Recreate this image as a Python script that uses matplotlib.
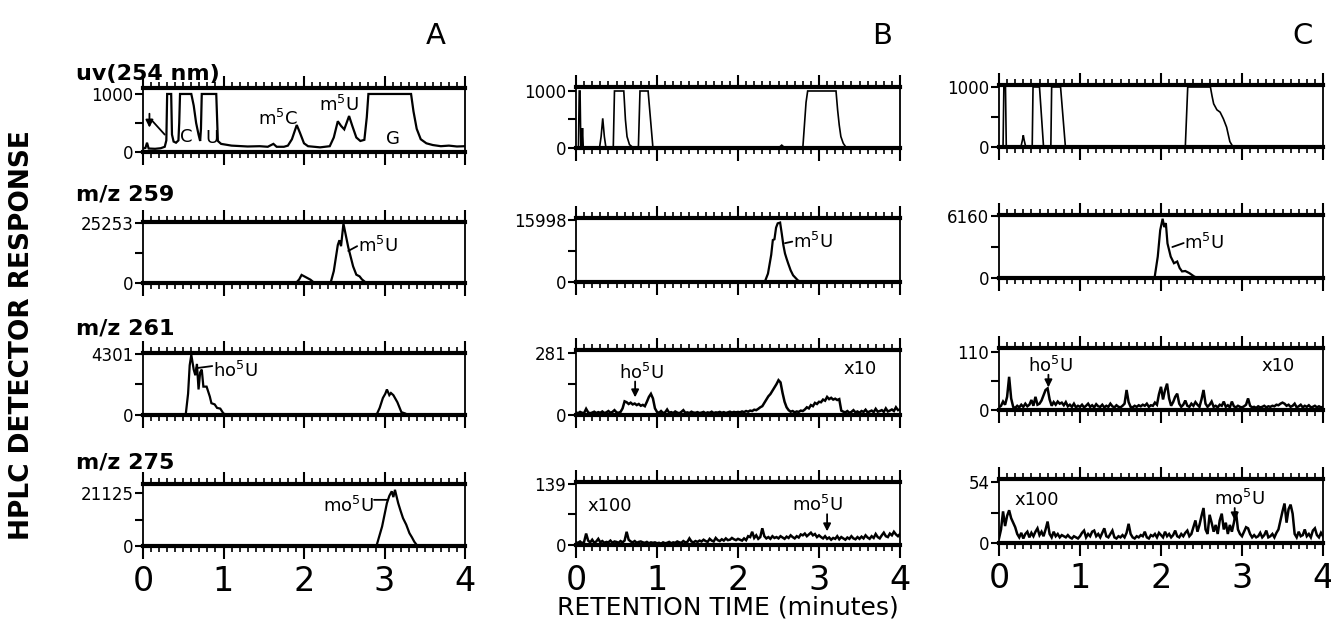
import numpy as np
import matplotlib
matplotlib.use('Agg')
import matplotlib.pyplot as plt
from matplotlib.ticker import MultipleLocator

# ---- data ----
# column A
a_uv_t = [0.00, 0.03, 0.05, 0.07, 0.15, 0.22, 0.27, 0.29, 0.30, 0.35, 0.36, 0.38, 0.41, 0.44, 0.45,
          0.46, 0.60, 0.63, 0.66, 0.69, 0.71, 0.72, 0.73, 0.91, 0.93, 0.97, 1.10, 1.30, 1.45, 1.55,
          1.62, 1.66, 1.75, 1.80, 1.85, 1.91, 1.95, 2.00, 2.05, 2.20, 2.32, 2.37, 2.42, 2.46, 2.50,
          2.56, 2.60, 2.65, 2.70, 2.75, 2.78, 2.80, 3.33, 3.36, 3.40, 3.45, 3.52, 3.60, 3.70, 3.80,
          3.90, 4.00]
a_uv_v = [60, 70, 160, 60, 55, 65, 90, 200, 1000, 1000, 300, 180, 160, 200, 500,
          1000, 1000, 800, 500, 300, 190, 400, 1000, 1000, 190, 140, 110, 95, 100, 90,
          140, 90, 90, 110, 220, 465, 330, 150, 100, 80, 100, 250, 530, 450, 390,
          620, 450, 250, 190, 210, 600, 1000, 1000, 700, 400, 220, 150, 120, 100, 110,
          95, 100]

a_259_t = [0, 1.90, 1.94, 1.97, 2.02, 2.08, 2.13, 2.33, 2.37, 2.42, 2.44, 2.46, 2.49, 2.52,
           2.55, 2.58, 2.61, 2.65, 2.69, 2.72, 2.76, 2.80, 4]
a_259_v = [0, 0, 1500, 3400, 2500, 1400, 0, 0, 5000, 16000, 18000, 15500, 25000, 20000,
           15000, 11000, 7000, 3500, 2800, 1500, 400, 0, 0]

a_261_t = [0, 0.53, 0.56, 0.58, 0.60, 0.63, 0.65, 0.67, 0.69, 0.71, 0.73, 0.75, 0.79, 0.83,
           0.85, 0.89, 0.92, 0.96, 1.00, 1.06, 2.90, 2.94, 2.98, 3.01, 3.03, 3.06, 3.08, 3.11,
           3.16, 3.21, 3.26, 3.29, 4]
a_261_v = [0, 0, 1500, 3500, 4250, 3200, 2800, 3600, 1800, 3000, 3200, 2000, 2000, 1300,
           830, 750, 500, 450, 100, 0, 0, 500, 1200, 1500, 1800, 1400, 1550, 1400,
           900, 200, 100, 0, 0]

a_275_t = [0, 2.90, 2.97, 3.03, 3.06, 3.09, 3.11, 3.13, 3.17, 3.20, 3.23, 3.27, 3.31, 3.34,
           3.37, 3.41, 4]
a_275_v = [0, 0, 7750, 17100, 20000, 21800, 19500, 22400, 17100, 14000, 11100, 8500, 5100, 3500,
           1700, 0, 0]

# column B
b_uv_t = [0, 0.03, 0.04, 0.05, 0.06, 0.07, 0.08, 0.09, 0.29, 0.31, 0.33, 0.35, 0.37, 0.46,
          0.475, 0.59, 0.61, 0.63, 0.66, 0.71, 0.77, 0.79, 0.89, 0.92, 0.95, 2.50, 2.54, 2.58,
          2.80, 2.84, 2.86, 3.21, 3.23, 3.25, 3.27, 3.30, 3.34, 4]
b_uv_v = [0, 0, 1000, 1000, 0, 0, 350, 0, 0, 200, 520, 200, 0, 0,
          1000, 1000, 500, 200, 60, 0, 0, 1000, 1000, 500, 0, 0, 50, 0,
          0, 800, 1000, 1000, 665, 400, 200, 80, 0, 0]

b_259_t = [0, 2.33, 2.37, 2.41, 2.43, 2.45, 2.47, 2.49, 2.52, 2.54, 2.56, 2.58, 2.60, 2.62,
           2.65, 2.68, 2.74, 2.78, 4]
b_259_v = [0, 0, 2160, 7000, 10800, 11000, 14000, 15100, 15300, 12500, 9500, 7350, 6000, 4750,
           3000, 1730, 400, 0, 0]

# noisy traces sampled every 0.025 min (0 .. 4)
b_261_v = [12, 8, 14, 10, 9, 28, 12, 8, 11, 15, 9, 13, 10, 16, 9, 12, 18, 10, 14, 22,
           12, 10, 14, 30, 62, 58, 50, 56, 48, 52, 45, 50, 42, 46, 40, 60, 82, 96, 75, 30,
           14, 10, 18, 9, 12, 25, 10, 13, 9, 16, 11, 8, 14, 22, 10, 12, 9, 15, 11, 10,
           13, 9, 11, 14, 8, 12, 10, 15, 9, 12, 11, 14, 10, 13, 9, 12, 15, 11, 14, 12,
           14, 12, 16, 13, 18, 15, 20, 18, 24, 22, 28, 35, 40, 55, 70, 85, 95, 110, 125, 140,
           158, 148, 100, 60, 35, 22, 15, 18, 12, 16, 14, 20, 18, 25, 35, 30, 45, 40, 55, 50,
           60, 58, 70, 65, 82, 72, 78, 70, 74, 68, 72, 20, 15, 12, 18, 10, 14, 22, 12, 16,
           10, 18, 14, 24, 12, 16, 20, 13, 28, 15, 18, 22, 14, 30, 16, 20, 25, 18, 35, 22,
           25]
b_275_v = [6, 5, 8, 4, 7, 26, 10, 6, 12, 5, 8, 14, 6, 9, 5, 7, 6, 10, 5, 8,
           7, 5, 9, 6, 10, 30, 12, 8, 6, 9, 5, 7, 8, 6, 5, 7, 4, 6, 5, 6,
           4, 5, 3, 6, 4, 5, 7, 4, 6, 5, 8, 6, 5, 9, 6, 7, 15, 8, 6, 9,
           7, 10, 8, 12, 9, 7, 14, 10, 8, 16, 11, 9, 13, 10, 15, 11, 12, 16, 13, 11,
           14, 12, 10, 15, 11, 20, 18, 30, 16, 22, 14, 18, 38, 20, 15, 18, 14, 20, 16, 18,
           15, 20, 17, 14, 19, 16, 22, 18, 15, 20, 17, 24, 22, 26, 20, 24, 28, 22, 25, 18,
           22, 18, 15, 20, 14, 17, 12, 16, 14, 20, 13, 18, 15, 12, 17, 14, 20, 15, 13, 18,
           14, 19, 15, 22, 17, 14, 20, 16, 25, 18, 15, 22, 28, 20, 18, 26, 22, 30, 24, 20,
           25]

# column C
c_uv_t = [0, 0.05, 0.06, 0.08, 0.09, 0.27, 0.29, 0.30, 0.31, 0.33, 0.41, 0.42, 0.50, 0.55,
          0.64, 0.65, 0.76, 0.82, 2.30, 2.33, 2.61, 2.63, 2.65, 2.69, 2.73, 2.77, 2.81, 2.85,
          2.89, 4]
c_uv_v = [0, 0, 1000, 1000, 0, 0, 120, 195, 120, 0, 0, 1000, 1000, 0,
          0, 1000, 1000, 0, 0, 1000, 1000, 850, 720, 620, 580, 470, 330, 90,
          0, 0]

c_259_t = [0, 1.92, 1.96, 1.99, 2.02, 2.04, 2.06, 2.08, 2.10, 2.12, 2.16, 2.20, 2.23, 2.26,
           2.30, 2.35, 2.41, 2.45, 4]
c_259_v = [0, 0, 2140, 4780, 5930, 5100, 5500, 3460, 2800, 2140, 1480, 1650, 1000, 660,
           700, 490, 150, 0, 0]

c_261_v = [5, 8, 16, 10, 25, 63, 22, 6, 4, 8, 5, 10, 6, 12, 7, 10, 19, 8, 25, 10,
           12, 18, 28, 38, 41, 20, 8, 15, 10, 16, 12, 14, 9, 15, 7, 10, 6, 12, 5, 8,
           6, 10, 5, 8, 12, 6, 9, 5, 11, 7, 6, 10, 5, 8, 6, 12, 7, 5, 9, 6,
           5, 8, 12, 38, 15, 6, 5, 8, 6, 9, 7, 10, 8, 12, 6, 9, 8, 14, 10, 30,
           44, 20, 38, 50, 22, 8, 15, 25, 31, 12, 6, 10, 18, 8, 6, 12, 8, 15, 10, 6,
           20, 38, 12, 6, 10, 16, 6, 8, 5, 10, 8, 16, 6, 9, 5, 16, 7, 5, 8, 6,
           5, 7, 10, 22, 8, 5, 6, 4, 7, 5, 6, 8, 5, 7, 6, 8, 7, 10, 9, 12,
           14, 12, 8, 10, 6, 8, 12, 5, 7, 10, 5, 8, 6, 9, 5, 6, 8, 5, 7, 5,
           6]
c_275_v = [4, 12, 28, 15, 24, 29, 22, 18, 14, 8, 5, 9, 4, 8, 10, 5, 9, 6, 10, 13,
           7, 10, 6, 12, 19, 8, 5, 10, 6, 8, 5, 7, 6, 5, 7, 5, 4, 6, 5, 4,
           6, 9, 11, 5, 8, 6, 10, 11, 6, 8, 5, 9, 13, 6, 5, 8, 11, 5, 4, 6,
           5, 7, 5, 9, 17, 8, 5, 4, 6, 5, 7, 6, 10, 5, 4, 7, 6, 8, 5, 9,
           7, 5, 10, 6, 8, 5, 7, 11, 6, 5, 8, 6, 9, 11, 6, 8, 14, 20, 10, 16,
           24, 31, 12, 8, 25, 18, 10, 16, 8, 20, 26, 12, 18, 8, 16, 10, 18, 28, 12, 8,
           6, 10, 14, 13, 8, 5, 7, 5, 6, 9, 5, 7, 11, 5, 6, 8, 5, 9, 12, 20,
           28, 35, 18, 30, 34, 26, 8, 5, 10, 6, 7, 12, 6, 8, 5, 11, 13, 7, 5, 9,
           6]

noise_t = np.linspace(0, 4, 161)

scale_a = [1000, 25253, 4301, 21125]
scale_b = [1000, 15998, 281, 139]
scale_c = [1000, 6160, 110, 54]
row_labels = ['uv(254 nm)', 'm/z 259', 'm/z 261', 'm/z 275']
panel_letters = ['A', 'B', 'C']
time_ticks = [0, 1, 2, 3, 4]

# ---- layout (pixels of the 1331x625 picture) ----
W, H = 1331, 625
cols_x = [(143, 465), (576, 900), (999, 1323)]
rows_y = [[(88, 152), (222, 283), (353, 415), (484, 546)],
          [(87, 148), (218, 282), (350, 415), (482, 545)],
          [(85, 147), (215, 278), (348, 410), (479, 543)]]
top_factor = [[1.103, 1.017, 1.016, 1.17],
              [1.07, 1.03, 1.05, 1.03],
              [1.033, 1.024, 1.07, 1.05]]

fig = plt.figure(figsize=(W / 100, H / 100), dpi=100)


def fx(px):
    return px / W


def fy(py):
    return 1 - py / H


def make_ax(c, r, scale):
    x0, x1 = cols_x[c]
    y0, y1 = rows_y[c][r]
    ax = fig.add_axes([fx(x0), fy(y1), (x1 - x0) / W, (y1 - y0) / H])
    ax.set_xlim(0, 4)
    ax.set_ylim(0, scale * top_factor[c][r])
    for s in ['top', 'bottom']:
        ax.spines[s].set_linewidth(3)
    for s in ['left', 'right']:
        ax.spines[s].set_linewidth(1.3)
    ax.set_xticks(time_ticks)
    ax.xaxis.set_minor_locator(MultipleLocator(0.1))
    ax.tick_params(axis='x', which='major', direction='out', top=True, bottom=True,
                   length=9, width=1.5, labelsize=24, pad=5)
    ax.tick_params(axis='x', which='minor', direction='out', top=True, bottom=True,
                   length=4, width=1.2)
    ax.set_yticks([0, scale / 2, scale])
    ax.set_yticklabels(['0', '', str(scale)])
    ax.tick_params(axis='y', direction='out', left=True, right=False, length=6,
                   width=1.5, labelsize=12, pad=1)
    if r < 3:
        ax.set_xticklabels([])
    else:
        ax.set_xticklabels([str(t) for t in time_ticks])
    return ax


def trace(ax, t, v, lw=1.6):
    ax.plot(t, v, color='k', lw=lw, solid_joinstyle='miter')


def arrow(ax, xy, xytext, head=True):
    ax.annotate('', xy=xy, xytext=xytext,
                arrowprops=dict(arrowstyle='-|>' if head else '-', color='k', lw=1.3,
                                mutation_scale=11, shrinkA=0, shrinkB=0))


lab = dict(fontsize=13, color='k')

# column A
ax = make_ax(0, 0, scale_a[0])
trace(ax, a_uv_t, a_uv_v)
ax.text(0.54, 250, 'C', ha='center', va='center', **lab)
ax.text(0.86, 236, 'U', ha='center', va='center', **lab)
ax.text(1.67, 563, r'm$^5$C', ha='center', va='center', **lab)
ax.text(2.43, 810, r'm$^5$U', ha='center', va='center', **lab)
ax.text(3.11, 219, 'G', ha='center', va='center', **lab)
arrow(ax, (0.08, 420), (0.08, 660))
arrow(ax, (0.10, 560), (0.27, 300), head=False)

ax = make_ax(0, 1, scale_a[1])
trace(ax, a_259_t, a_259_v)
arrow(ax, (2.55, 13500), (2.66, 15500), head=False)
ax.text(2.67, 15500, r'm$^5$U', ha='left', va='center', **lab)

ax = make_ax(0, 2, scale_a[2])
trace(ax, a_261_t, a_261_v)
arrow(ax, (0.66, 3300), (0.86, 3450), head=False)
ax.text(0.87, 3100, r'ho$^5$U', ha='left', va='center', **lab)

ax = make_ax(0, 3, scale_a[3])
trace(ax, a_275_t, a_275_v)
arrow(ax, (2.87, 18400), (3.04, 18400), head=False)
ax.text(2.87, 15800, r'mo$^5$U', ha='right', va='center', **lab)

# column B
ax = make_ax(1, 0, scale_b[0])
trace(ax, b_uv_t, b_uv_v, lw=1.2)

ax = make_ax(1, 1, scale_b[1])
trace(ax, b_259_t, b_259_v)
arrow(ax, (2.58, 10000), (2.67, 10400), head=False)
ax.text(2.68, 10377, r'm$^5$U', ha='left', va='center', **lab)

ax = make_ax(1, 2, scale_b[2])
trace(ax, noise_t, b_261_v, lw=1.8)
ax.text(0.81, 190, r'ho$^5$U', ha='center', va='center', **lab)
arrow(ax, (0.73, 80), (0.73, 152))
ax.text(3.51, 210, 'x10', ha='center', va='center', **lab)

ax = make_ax(1, 3, scale_b[3])
trace(ax, noise_t, b_275_v, lw=1.8)
ax.text(0.42, 88, 'x100', ha='center', va='center', **lab)
ax.text(2.98, 92, r'mo$^5$U', ha='center', va='center', **lab)
arrow(ax, (3.10, 31), (3.10, 70))

# column C
ax = make_ax(2, 0, scale_c[0])
trace(ax, c_uv_t, c_uv_v, lw=1.2)

ax = make_ax(2, 1, scale_c[1])
trace(ax, c_259_t, c_259_v)
arrow(ax, (2.14, 3100), (2.28, 3500), head=False)
ax.text(2.29, 3460, r'm$^5$U', ha='left', va='center', **lab)

ax = make_ax(2, 2, scale_c[2])
trace(ax, noise_t, c_261_v, lw=1.8)
ax.text(0.63, 84, r'ho$^5$U', ha='center', va='center', **lab)
arrow(ax, (0.61, 43), (0.61, 67))
ax.text(3.45, 83, 'x10', ha='center', va='center', **lab)

ax = make_ax(2, 3, scale_c[3])
trace(ax, noise_t, c_275_v, lw=1.8)
ax.text(0.46, 38, 'x100', ha='center', va='center', **lab)
ax.text(2.97, 39, r'mo$^5$U', ha='center', va='center', **lab)
arrow(ax, (2.91, 20), (2.91, 31))

# labels
for txt, ypx in zip(row_labels, [74, 194, 328, 462]):
    fig.text(fx(76), fy(ypx), txt, ha='left', va='center', fontsize=16, fontweight='bold')
for txt, xpx in zip(panel_letters, [436, 882, 1303]):
    fig.text(fx(xpx), fy(36), txt, ha='center', va='center', fontsize=21)
fig.text(fx(22), fy(335), 'HPLC DETECTOR RESPONSE', rotation=90, ha='center', va='center',
         fontsize=19, fontweight='bold')
fig.text(fx(728), fy(608), 'RETENTION TIME (minutes)', ha='center', va='center', fontsize=18)

fig.savefig('out.png', dpi=100)
